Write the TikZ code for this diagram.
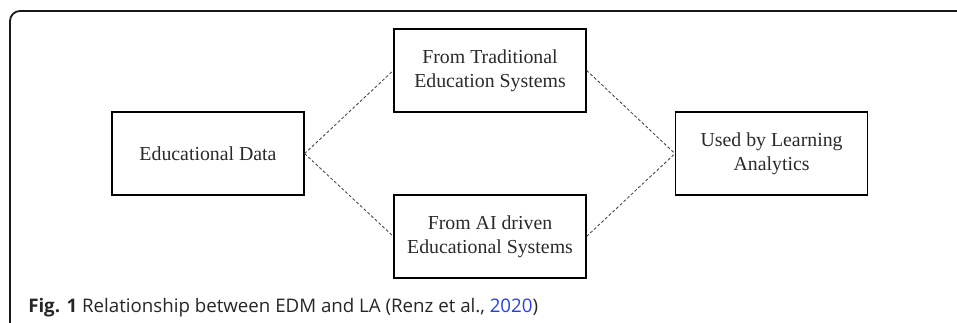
\documentclass[tikz,border=0pt]{standalone}
\usepackage{fontspec}
\setmainfont{Liberation Serif}
\newfontfamily\capfont{Open Sans}
\usepackage{tikz}
\definecolor{boxtext}{HTML}{2A2A2A}
\definecolor{linkblue}{HTML}{2A40D8}

\begin{document}
\begin{tikzpicture}[
  block/.style={draw=black, line width=0.9pt, text=boxtext, align=center,
    minimum width=4.8cm, minimum height=2.075cm, inner sep=0pt,
    font=\fontsize{14.1pt}{17pt}\selectfont},
  link/.style={draw=black!75, line width=0.6pt, dash pattern=on 2.1pt off 1.5pt}]
\useasboundingbox (0,0) rectangle (23.925,-8.05);
\draw [line width=1.3pt, draw=black!90, rounded corners=0.25cm] (0.25,-8.2) -- (0.25,-0.275) -- (24.2,-0.275);
\node [block] (Data) at (5.2,-3.84) {Educational Data};
\node [block] (Trad) at (12.25,-1.76) {From Traditional\\Education Systems};
\node [block] (AI) at (12.25,-5.91) {From AI driven\\Educational Systems};
\node [block] (LA) at (19.29,-3.84) {Used by Learning\\Analytics};
\draw [link] (Data.east) -- (Trad.west);
\draw [link] (Data.east) -- (AI.west);
\draw [link] (Trad.east) -- (LA.west);
\draw [link] (AI.east) -- (LA.west);
\node [anchor=base west, inner sep=0pt, text=black!85, font=\capfont\fontsize{13.3pt}{16pt}\selectfont] (Cap) at (0.7,-7.8)
  {\textbf{Fig. 1} Relationship between EDM and LA (Renz et al., \textcolor{linkblue}{2020})};
\end{tikzpicture}
\end{document}
